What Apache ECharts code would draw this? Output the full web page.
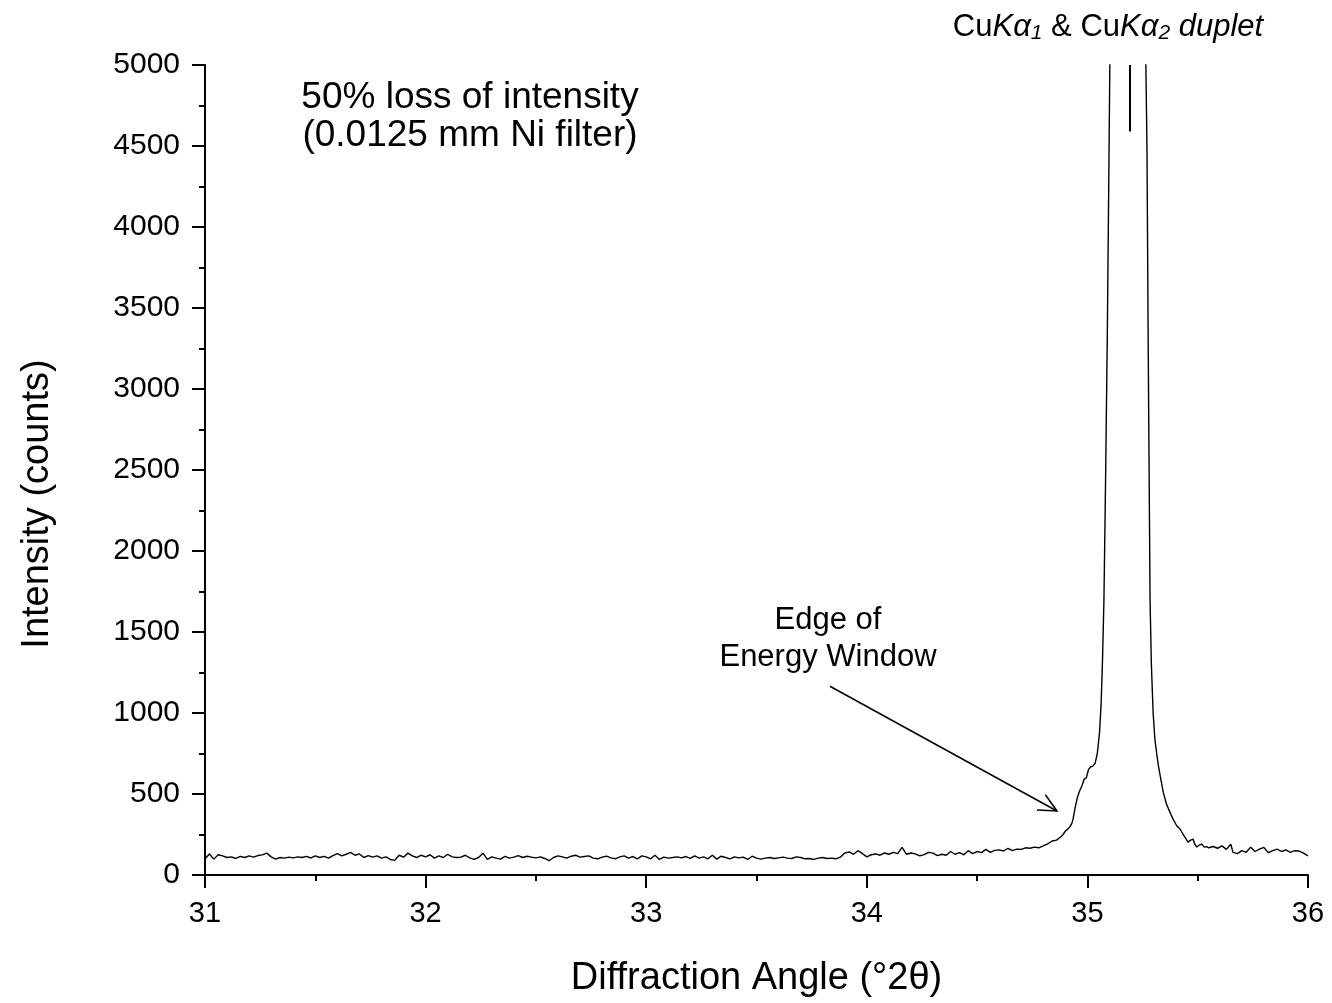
<!DOCTYPE html>
<html>
<head>
<meta charset="utf-8">
<script src="https://cdn.jsdelivr.net/npm/echarts@6/dist/echarts.min.js"></script>
<style>html,body{margin:0;padding:0;background:#fff}#c{width:1332px;height:1003px}</style>
</head>
<body>
<div id="c"></div>
<script>
// Baseline (step 0.02) from 31.00 to 34.72
const baseStart = 31.00;
const baseStep = 0.02;
const baseY = [
100,130,98,125,118,108,112,102,115,108,118,110,120,124,135,112,98,108,104,110,106,112,108,115,105,118,108,115,104,120,132,118,128,140,
122,130,108,120,110,118,104,112,96,90,122,110,135,118,108,122,112,125,104,118,108,128,112,108,110,122,106,96,108,135,96,112,104,
98,115,104,110,120,108,116,110,106,112,102,88,108,118,112,104,116,122,110,114,118,104,100,110,116,106,100,112,118,104,114,100,118,112,
100,122,96,110,104,108,112,106,114,102,118,104,112,100,122,98,116,108,100,112,106,110,96,116,104,98,104,108,102,106,110,104,
102,112,108,100,102,96,104,108,102,104,100,110,136,142,128,150,132,112,125,130,122,136,128,140,132,170,128,136,130,118,126,140,135,
120,128,122,145,128,138,125,150,132,145,138,158,140,152,155,148,165,150,160,158,168
];
// Peak region (irregular sampling)
const peakX = [34.74,34.76,34.78,34.80,34.82,34.84,34.86,34.88,34.89,34.90,34.91,34.92,34.93,34.935,34.945,34.955,34.965,34.975,34.985,34.995,35.005,35.015,35.025,35.035,35.045,35.055,35.062,35.068,35.075,35.082,35.09,35.097,35.103,35.11,35.13,35.16,35.19,35.22,35.245,35.262,35.27,35.276,35.284,35.29,35.298,35.306,35.314,35.322,35.333,35.344,35.358,35.374,35.39,35.405,35.42,35.433,35.445,35.456,35.468,35.479,35.487,35.495,35.507,35.518,35.53,35.54];
const peakY = [165,172,168,180,192,210,215,236,250,271,282,296,320,345,420,480,520,549,590,600,650,668,672,690,750,880,1050,1300,1700,2400,3300,4300,5200,6500,9000,11000,10500,9000,6500,5300,4500,3200,1700,1300,1000,838,750,674,590,510,440,388,340,304,284,253,228,203,215,222,190,173,185,191,172,175];
// Right tail
const tailX = [35.55,35.57,35.59,35.61,35.63,35.65,35.66,35.68,35.70,35.72,35.74,35.76,35.78,35.80,35.82,35.84,35.86,35.88,35.90,35.92,35.94,35.96,35.98,36.00];
const tailY = [168,176,165,180,158,190,140,132,150,140,172,145,160,170,138,150,160,145,155,140,150,148,135,118];

const xTicks = [31,32,33,34,35,36];
const yTicks = [0,500,1000,1500,2000,2500,3000,3500,4000,4500,5000];

const points = [];
baseY.forEach((v,i)=>points.push([+(baseStart+i*baseStep).toFixed(2), v]));
peakX.forEach((x,i)=>points.push([x, peakY[i]]));
tailX.forEach((x,i)=>points.push([x, tailY[i]]));

const FONT = 'Arial, "Liberation Sans", sans-serif';
const chart = echarts.init(document.getElementById('c'));
chart.setOption({
  animation:false,
  backgroundColor:'#fff',
  grid:{left:205,right:24,top:65,bottom:127,containLabel:false},
  xAxis:{
    type:'value', min:xTicks[0], max:xTicks[xTicks.length-1], interval:1,
    name:'Diffraction Angle (°2θ)', nameLocation:'middle', nameGap:85,
    nameTextStyle:{fontFamily:FONT,fontSize:38,color:'#000'},
    axisLine:{lineStyle:{color:'#000',width:2}},
    axisTick:{inside:false,length:13,lineStyle:{color:'#000',width:2}},
    minorTick:{show:true,splitNumber:2,length:6,lineStyle:{color:'#000',width:2}},
    axisLabel:{fontFamily:FONT,fontSize:29,color:'#000',margin:24,formatter:v=>String(v)},
    splitLine:{show:false}
  },
  yAxis:{
    type:'value', min:yTicks[0], max:yTicks[yTicks.length-1], interval:500,
    axisLine:{show:true,lineStyle:{color:'#000',width:2}},
    axisTick:{show:true,inside:false,length:13,lineStyle:{color:'#000',width:2}},
    minorTick:{show:true,splitNumber:2,length:6,lineStyle:{color:'#000',width:2}},
    axisLabel:{fontFamily:FONT,fontSize:30,color:'#000',margin:25,formatter:v=>String(v)},
    splitLine:{show:false}
  },
  series:[{
    type:'line', data:points, showSymbol:false, clip:true,
    lineStyle:{color:'#000',width:1.4},
    markLine:{
      silent:true, symbol:['none','none'], label:{show:false},
      lineStyle:{color:'#000',width:2,type:'solid'},
      data:[[{coord:[35.193,5000]},{coord:[35.193,4590]}]]
    }
  }]
});

// annotations
const p1 = chart.convertToPixel({gridIndex:0},[33.833,1165]);
const p2 = chart.convertToPixel({gridIndex:0},[34.862,395]);
const ang = Math.atan2(p2[1]-p1[1], p2[0]-p1[0]);
const L = 20, a = 0.45;
const h1 = [p2[0]-L*Math.cos(ang-a), p2[1]-L*Math.sin(ang-a)];
const h2 = [p2[0]-L*Math.cos(ang+a), p2[1]-L*Math.sin(ang+a)];
chart.setOption({
  graphic:[
    {type:'line',shape:{x1:p1[0],y1:p1[1],x2:p2[0],y2:p2[1]},style:{stroke:'#000',lineWidth:1.5}},
    {type:'polyline',shape:{points:[h1,p2,h2]},style:{stroke:'#000',lineWidth:1.5,fill:null}},
    {type:'text',x:38,y:504,rotation:Math.PI/2,style:{text:'Intensity (counts)',font:'38px '+FONT,fill:'#000',textAlign:'center',textVerticalAlign:'middle'}},
    {type:'text',x:470,y:79,style:{text:'50% loss of intensity\n(0.0125 mm Ni filter)',font:'37px '+FONT,fill:'#000',textAlign:'center',lineHeight:38}},
    {type:'text',x:828,y:602,style:{text:'Edge of\nEnergy Window',font:'31px '+FONT,fill:'#000',textAlign:'center',lineHeight:37}},
    {type:'text',x:1108,y:10,style:{
      text:'{n|Cu}{i|Kα}{s|1}{n| & Cu}{i|Kα}{s|2}{i| duplet}',
      textAlign:'center',
      rich:{
        n:{fontFamily:FONT,fontSize:31,fill:'#000',lineHeight:34,verticalAlign:'middle'},
        i:{fontFamily:FONT,fontSize:31,fontStyle:'italic',fill:'#000',lineHeight:34,verticalAlign:'middle'},
        s:{fontFamily:FONT,fontSize:21,fontStyle:'italic',fill:'#000',lineHeight:34,verticalAlign:'bottom',padding:[14,0,0,0]}
      }}}
  ]
});
</script>
</body>
</html>
